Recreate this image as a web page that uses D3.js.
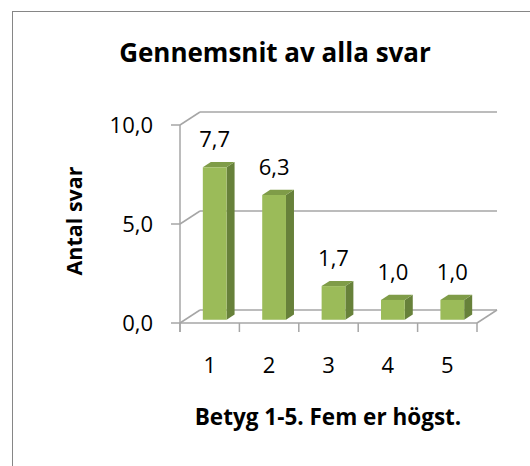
<!DOCTYPE html>
<html>
<head>
<meta charset="utf-8">
<script src="https://cdn.jsdelivr.net/npm/d3@7"></script>
<style>
  html, body { margin: 0; padding: 0; background: #fff; }
  svg { display: block; font-family: "Open Sans", sans-serif; }
</style>
</head>
<body>
<div id="graph"></div>
<script>
const categories = ['1', '2', '3', '4', '5'];
const values = [7.7, 6.3, 1.7, 1.0, 1.0];
const yTicks = [0, 5, 10];
const title = 'Gennemsnit av alla svar';
const xTitle = 'Betyg 1-5. Fem er högst.';
const yTitle = 'Antal svar';

const w = 530;
const h = 466;

// depth of the 3d box and where the bars sit in it
const depth = {dx: 20, dy: -13};
const t0 = 0.25, t1 = 0.65;

const sv = d3.formatLocale({decimal: ',', thousands: ' ', grouping: [3], currency: ['', '']});
const fmt = sv.format('.1f');

const svg = d3.select('#graph')
  .append('svg')
  .attr('width', w)
  .attr('height', h);

svg.append('rect')
  .attr('width', w).attr('height', h)
  .style('fill', '#fff');

// outer border (right/bottom fall outside the picture)
svg.append('rect')
  .attr('x', 12.5).attr('y', 11.5)
  .attr('width', w).attr('height', h)
  .style('fill', 'none')
  .style('stroke', '#868686')
  .style('stroke-width', 1);

const xScale = d3.scaleBand()
  .domain(categories)
  .range([180, 477])
  .paddingInner(0.6)
  .paddingOuter(0.3);
const step = xScale.step();
const x0 = xScale.range()[0];
const x1 = xScale.range()[1];

const yScale = d3.scaleLinear().domain([0, 10]).range([323, 125]);

const grid = '#a6a6a6';

// back wall gridlines + left wall lines
const g = svg.append('g');
yTicks.forEach(v => {
  const y = yScale(v);
  g.append('line')
    .attr('x1', x0).attr('y1', y)
    .attr('x2', x0 + depth.dx).attr('y2', y + depth.dy)
    .style('stroke', grid).style('stroke-width', 1.5);
  g.append('line')
    .attr('x1', x0 + depth.dx).attr('y1', y + depth.dy)
    .attr('x2', x1 + depth.dx).attr('y2', y + depth.dy)
    .style('stroke', grid).style('stroke-width', 1.5);
});

// floor front and right edge
g.append('line')
  .attr('x1', x0).attr('y1', yScale(0))
  .attr('x2', x1).attr('y2', yScale(0))
  .style('stroke', grid).style('stroke-width', 1.5);
g.append('line')
  .attr('x1', x1).attr('y1', yScale(0))
  .attr('x2', x1 + depth.dx).attr('y2', yScale(0) + depth.dy)
  .style('stroke', grid).style('stroke-width', 1.5);

// y axis line and ticks
g.append('line')
  .attr('x1', x0).attr('y1', yScale(10))
  .attr('x2', x0).attr('y2', yScale(0) + 9)
  .style('stroke', grid).style('stroke-width', 1.5);
yTicks.forEach(v => {
  g.append('line')
    .attr('x1', x0 - 9).attr('y1', yScale(v))
    .attr('x2', x0).attr('y2', yScale(v))
    .style('stroke', grid).style('stroke-width', 1.5);
});

// category ticks
d3.range(categories.length + 1).forEach(i => {
  const x = x0 + i * step;
  g.append('line')
    .attr('x1', x).attr('y1', yScale(0))
    .attr('x2', x).attr('y2', yScale(0) + 9)
    .style('stroke', grid).style('stroke-width', 1.5);
});

// bars
const fx = t0 * depth.dx, fy = t0 * depth.dy;
const bx = (t1 - t0) * depth.dx, by = (t1 - t0) * depth.dy;
const bw = xScale.bandwidth();

const bars = svg.selectAll('.bar')
  .data(values)
  .enter()
  .append('g')
  .attr('class', 'bar');

bars.append('polygon')
  .attr('points', (d, i) => {
    const x = xScale(categories[i]) + fx + bw, yT = yScale(d) + fy, yB = yScale(0) + fy;
    return [[x, yT], [x + bx, yT + by], [x + bx, yB + by], [x, yB]].join(' ');
  })
  .style('fill', '#67813a');

bars.append('polygon')
  .attr('points', (d, i) => {
    const x = xScale(categories[i]) + fx, yT = yScale(d) + fy;
    return [[x, yT], [x + bx, yT + by], [x + bw + bx, yT + by], [x + bw, yT]].join(' ');
  })
  .style('fill', '#7f9c48');

bars.append('rect')
  .attr('x', (d, i) => xScale(categories[i]) + fx)
  .attr('y', d => yScale(d) + fy)
  .attr('width', bw)
  .attr('height', d => yScale(0) - yScale(d))
  .style('fill', '#9bbb59');

bars.append('text')
  .attr('x', (d, i) => xScale(categories[i]) + fx + bw / 2)
  .attr('y', d => yScale(d) + fy - 20)
  .attr('text-anchor', 'middle')
  .style('font-size', '22px')
  .style('fill', '#000')
  .text(d => fmt(d));

// tick labels
svg.selectAll('.ylab')
  .data(yTicks)
  .enter()
  .append('text')
  .attr('class', 'ylab')
  .attr('x', 153)
  .attr('y', d => yScale(d))
  .attr('dy', '0.35em')
  .attr('text-anchor', 'end')
  .style('font-size', '22px')
  .text(d => fmt(d));

svg.selectAll('.xlab')
  .data(categories)
  .enter()
  .append('text')
  .attr('class', 'xlab')
  .attr('x', d => xScale(d) + bw / 2)
  .attr('y', 373)
  .attr('text-anchor', 'middle')
  .style('font-size', '22px')
  .text(d => d);

// titles
svg.append('text')
  .attr('x', 275)
  .attr('y', 62)
  .attr('text-anchor', 'middle')
  .style('font-size', '26px')
  .style('font-weight', 'bold')
  .text(title);

svg.append('text')
  .attr('x', 328)
  .attr('y', 425)
  .attr('text-anchor', 'middle')
  .style('font-size', '22.5px')
  .style('font-weight', 'bold')
  .text(xTitle);

svg.append('text')
  .attr('transform', 'translate(82,221) rotate(-90)')
  .attr('text-anchor', 'middle')
  .style('font-size', '21.5px')
  .style('font-weight', 'bold')
  .text(yTitle);
</script>
</body>
</html>
